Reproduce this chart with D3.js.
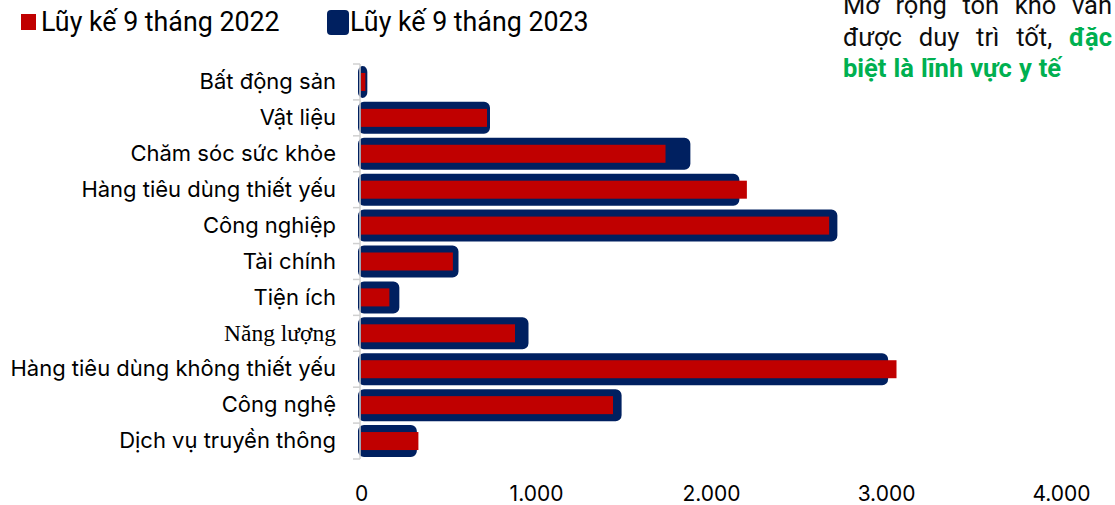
<!DOCTYPE html>
<html>
<head>
<meta charset="utf-8">
<script src="https://cdn.jsdelivr.net/npm/d3@7"></script>
<style>
  html, body { margin: 0; padding: 0; background: #fff; }
  svg { display: block; }
</style>
</head>
<body>
<svg id="chart" width="1115" height="505"></svg>
<script>
// Sector names, top to bottom
const categories = [
  "Bất động sản",
  "Vật liệu",
  "Chăm sóc sức khỏe",
  "Hàng tiêu dùng thiết yếu",
  "Công nghiệp",
  "Tài chính",
  "Tiện ích",
  "Năng lượng",
  "Hàng tiêu dùng không thiết yếu",
  "Công nghệ",
  "Dịch vụ truyền thông"
];
// Cumulative 9-month values
const values2022 = [25, 720, 1740, 2205, 2675, 525, 162, 880, 3060, 1440, 328];
const values2023 = [19, 720, 1865, 2145, 2705, 540, 202, 940, 2995, 1472, 302];
const xTicks = [0, 1000, 2000, 3000, 4000];
const seriesNames = ["Lũy kế 9 tháng 2022", "Lũy kế 9 tháng 2023"];
const noteLines = [
  { words: ["Mở", "rộng", "tồn", "kho", "vẫn"], justify: true },
  { words: ["được", "duy", "trì", "tốt,", "đặc"], justify: true, greenFrom: 4 },
  { words: ["biệt", "là", "lĩnh", "vực", "y", "tế"], justify: false, greenFrom: 0 }
];

const RED = "#C00000", NAVY = "#002060", GREEN = "#00B050";
const svg = d3.select("#chart");

const x = d3.scaleLinear().domain([0, 4000]).range([361, 1061]);
const y = d3.scaleBand().domain(categories).range([64, 459]).padding(0);

const bw = y.bandwidth();

// 2023 series: navy bars with a thick rounded outline
svg.append("g").selectAll("rect")
  .data(categories)
  .join("rect")
  .attr("x", x(0))
  .attr("y", (d) => y(d) + (bw - 26) / 2)
  .attr("width", (d, i) => Math.max(0.5, x(values2023[i]) - x(0)))
  .attr("height", 26)
  .attr("rx", 3)
  .attr("fill", NAVY)
  .attr("stroke", NAVY)
  .attr("stroke-width", 6)
  .attr("stroke-linejoin", "round");

// 2022 series: thinner red bars on top
svg.append("g").selectAll("rect")
  .data(categories)
  .join("rect")
  .attr("x", x(0))
  .attr("y", (d) => y(d) + (bw - 18) / 2)
  .attr("width", (d, i) => x(values2022[i]) - x(0))
  .attr("height", 18)
  .attr("fill", RED);

// Category axis: light grey spine with ticks at band boundaries
const boundaries = categories.map((c) => y(c)).concat([y.range()[1]]);
const axisG = svg.append("g");
axisG.append("line")
  .attr("x1", 360).attr("x2", 360)
  .attr("y1", y.range()[0]).attr("y2", y.range()[1])
  .attr("stroke", "#d0d0d0").attr("stroke-width", 1.5);
axisG.selectAll("line.tick")
  .data(boundaries)
  .join("line")
  .attr("class", "tick")
  .attr("x1", 353).attr("x2", 360)
  .attr("y1", (d) => d).attr("y2", (d) => d)
  .attr("stroke", "#d0d0d0").attr("stroke-width", 1.5);

// Category labels
const yAxis = svg.append("g")
  .attr("transform", "translate(360,0)")
  .call(d3.axisLeft(y).tickSize(0).tickPadding(24));
yAxis.select(".domain").remove();
yAxis.selectAll("text")
  .attr("fill", "#000")
  .attr("font-family", "Inter, 'Noto Sans', sans-serif")
  .attr("font-size", 22)
  .attr("dy", "0.33em");
yAxis.selectAll(".tick")
  .filter((d) => d === "Năng lượng")
  .select("text")
  .attr("font-family", "'Liberation Serif', 'DejaVu Serif', serif")
  .attr("font-size", 23.5);

// Value axis labels, dot as thousands separator
const vn = d3.formatLocale({ decimal: ",", thousands: ".", grouping: [3], currency: ["", ""] });
const xAxis = svg.append("g")
  .attr("transform", "translate(0,474)")
  .call(d3.axisBottom(x).tickValues(xTicks).tickFormat(vn.format(",d")).tickSize(0).tickPadding(0));
xAxis.select(".domain").remove();
xAxis.selectAll("text")
  .attr("fill", "#000")
  .attr("font-family", "Inter, 'Noto Sans', sans-serif")
  .attr("font-size", 21)
  .attr("dy", null)
  .attr("y", 26.5);

// Legend
const lg = svg.append("g").attr("font-family", "Roboto, sans-serif").attr("font-size", 26.8).attr("fill", "#000");
lg.append("rect").attr("x", 21).attr("y", 14).attr("width", 15).attr("height", 16).attr("fill", RED);
lg.append("text").attr("x", 41).attr("y", 31).text(seriesNames[0]);
lg.append("rect").attr("x", 327).attr("y", 10).attr("width", 22).attr("height", 25).attr("rx", 4).attr("fill", NAVY);
lg.append("text").attr("x", 350).attr("y", 31).text(seriesNames[1]);

// Note text in the top-right corner, justified lines
const noteLeft = 843, noteRight = 1112, baselines = [14, 46, 77];
const noteG = svg.append("g").attr("font-family", "Roboto, sans-serif").attr("font-size", 25.5);
noteLines.forEach((line, li) => {
  const words = line.words.map((w, wi) => {
    const green = line.greenFrom !== undefined && wi >= line.greenFrom;
    return noteG.append("text")
      .attr("y", baselines[li])
      .attr("fill", green ? GREEN : "#0d0d0d")
      .attr("font-weight", green ? 700 : 400)
      .text(w);
  });
  const widths = words.map((t) => t.node().getComputedTextLength());
  const total = d3.sum(widths);
  const space = line.justify
    ? (noteRight - noteLeft - total) / (words.length - 1)
    : 7;
  let cx = noteLeft;
  words.forEach((t, i) => { t.attr("x", cx); cx += widths[i] + space; });
});
</script>
</body>
</html>
